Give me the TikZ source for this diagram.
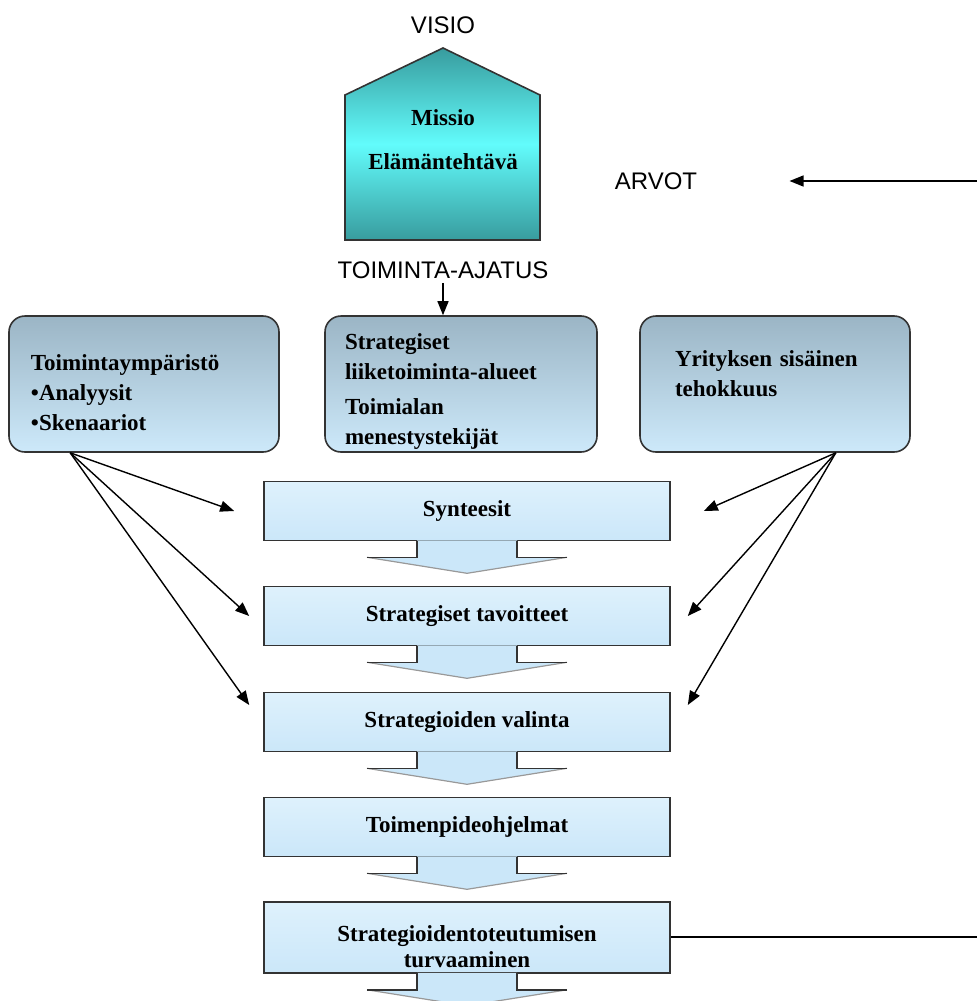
\documentclass[tikz,border=0pt]{standalone}
\usepackage{fontspec}
\setmainfont{Liberation Serif}
\newfontfamily\labelfont{Liberation Sans}
\usetikzlibrary{arrows.meta}

\definecolor{tealdark}{RGB}{56,156,158}
\definecolor{teallight}{RGB}{98,252,252}
\definecolor{slatetop}{RGB}{155,181,197}
\definecolor{slatebot}{RGB}{205,233,250}
\definecolor{flowtop}{RGB}{222,241,252}
\definecolor{flowbot}{RGB}{203,231,249}

\begin{document}
\begin{tikzpicture}[
		x=0.5pt, y=-0.5pt,
		>={Triangle[length=7pt,width=5.5pt]},
		plainlabel/.style={font=\labelfont\fontsize{12}{14}\selectfont, inner sep=2pt},
		areabox/.style={draw=black!80, line width=0.8pt, rounded corners=8pt, top color=slatetop, bottom color=slatebot, minimum height=68pt, inner xsep=11pt, text width=113pt, align=left, font=\bfseries\fontsize{11.5}{15}\selectfont},
		flowbox/.style={draw=black!80, line width=0.8pt, top color=flowtop, bottom color=flowbot, minimum width=203pt, minimum height=29.5pt, align=center, font=\bfseries\fontsize{11.5}{13}\selectfont},
		flowedge/.style={draw=black!80, line width=0.8pt},
		flowrim/.style={draw=gray!80, line width=0.6pt},
		feed/.style={->, line width=0.7pt},
		]
		\useasboundingbox (0,0) rectangle (977,1001);

		% mission house
		\filldraw[draw=black!80, line width=0.8pt, top color=tealdark, bottom color=tealdark, middle color=teallight]
			(345,95) -- (443,48) -- (540,95) -- (540,240) -- (345,240) -- cycle;
		\node[font=\bfseries\fontsize{11.5}{14}\selectfont, align=center] (mis) at (443,140) {Missio\\[8pt]Elämäntehtävä};
		\node[plainlabel] (visio) at (443,25) {VISIO};
		\node[plainlabel] (toim) at (443,270) {TOIMINTA-AJATUS};
		\node[plainlabel] (arvot) at (656,181) {ARVOT};
		\coordinate (arvsrc) at (977,181);

		% three areas
		\node[areabox] (env) at (144,384) {\rule{0pt}{17pt}Toimintaympäristö\\\textbullet Analyysit\\\textbullet Skenaariot};
		\node[areabox, inner xsep=10pt, inner ysep=0pt, text width=116pt] (sla) at (461,384) {\rule{0pt}{15.5pt}Strategiset\\liiketoiminta-alueet\\[2.5pt]Toimialan\\menestystekijät};
		\node[areabox, inner xsep=17.5pt, text width=100pt] (eff) at (775,384) {Yrityksen sisäinen\\tehokkuus\\[-5pt]\mbox{}};

		% process steps
		\node[flowbox] (syn) at (467,511) {Synteesit};
		\node[flowbox] (tav) at (467,616) {Strategiset tavoitteet};
		\node[flowbox] (val) at (467,722) {Strategioiden valinta};
		\node[flowbox] (ohj) at (467,827) {Toimenpideohjelmat};
		\node[flowbox, minimum height=35.5pt] (tur) at (467,937.5) {\raisebox{-6pt}[\height][\depth]{\begin{tabular}{@{}c@{}}Strategioidentoteutumisen\\turvaaminen\end{tabular}}};
		\coordinate (tursink) at (977,937);

		\foreach \b in {syn,tav,val,ohj,tur}{
			\fill[flowbot] ([shift={(-25pt,0.5pt)}]\b.south) -- ++(0pt,-8.5pt) -- ++(-25pt,0pt) -- ++(50pt,-8pt) -- ++(50pt,8pt) -- ++(-25pt,0pt) -- ++(0pt,8.5pt) -- cycle;
			\draw[flowrim] ([shift={(-50pt,-8pt)}]\b.south) -- ([yshift=-16pt]\b.south) -- ([shift={(50pt,-8pt)}]\b.south);
			\draw[flowedge] ([shift={(-25pt,0.4pt)}]\b.south) -- ++(0pt,-8.4pt) -- ++(-25pt,0pt);
			\draw[flowedge] ([shift={(25pt,0.4pt)}]\b.south) -- ++(0pt,-8.4pt) -- ++(25pt,0pt);
		}

		% connectors
		\coordinate (envfoot) at ([xshift=31pt]env.south west);
		\coordinate (efffoot) at ([xshift=-37.5pt]eff.south east);
		\draw[feed] (toim.south) -- (toim.south |- sla.north);
		\draw[feed] (arvsrc) -- ([xshift=44pt]arvot.east);
		\draw[line width=0.7pt] (tur.east |- tursink) -- (tursink);
		\draw[feed] (envfoot) -- ([xshift=-14.5pt]syn.west);
		\draw[feed] (envfoot) -- ([xshift=-7pt]tav.west);
		\draw[feed] (envfoot) -- ([shift={(-7pt,8.5pt)}]val.west);
		\draw[feed] (efffoot) -- ([xshift=16.5pt]syn.east);
		\draw[feed] (efffoot) -- ([xshift=8.5pt]tav.east);
		\draw[feed] (efffoot) -- ([shift={(8.5pt,8.5pt)}]val.east);
	\end{tikzpicture}
\end{document}
